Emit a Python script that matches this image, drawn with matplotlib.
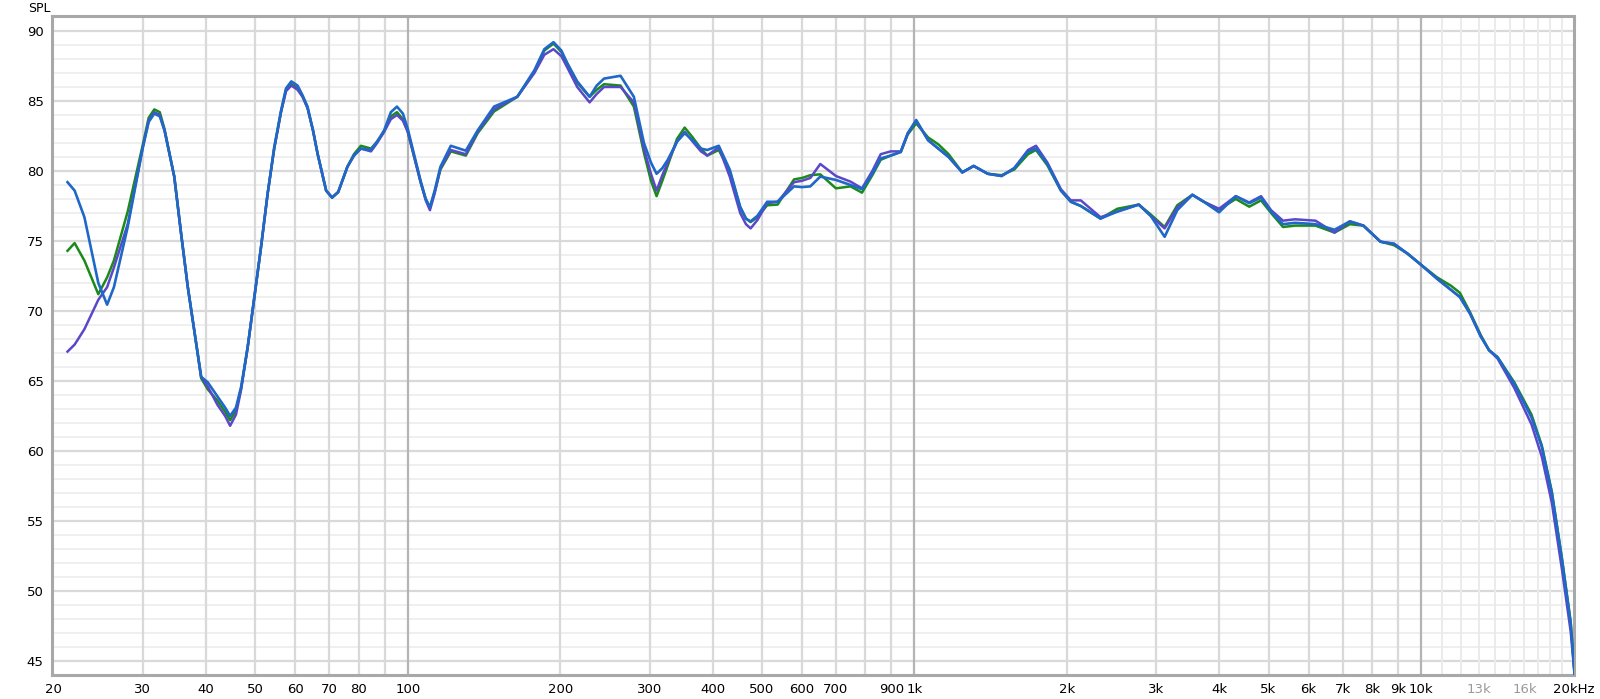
import matplotlib
matplotlib.use("Agg")
import matplotlib.pyplot as plt
from matplotlib.ticker import NullLocator

# Frequenzgang, drei Messungen
freq = [21.3, 22.0, 23.0, 24.5, 25.5, 26.3, 28.0, 30.0, 30.8, 31.6,
        32.4, 33.1, 34.6, 35.7, 36.8, 38.0, 39.1, 40.3, 42.1, 43.6,
        44.6, 45.8, 46.9, 48.3, 49.8, 51.3, 52.9, 54.5, 56.2, 57.5,
        58.9, 60.6, 62.0, 63.4, 65.0, 66.4, 69.0, 70.9, 72.9, 76.0,
        78.3, 80.8, 84.6, 87.0, 89.8, 92.6, 95.2, 97.8, 100, 106,
        108.5, 110.6, 113, 116, 121.6, 130.2, 137.4, 148, 164.5, 177.8,
        186, 193.9, 201, 206.4, 216, 228.5, 236, 244, 263, 279.4,
        292.5, 302, 309.8, 318, 326, 340, 352, 365, 379, 390,
        411, 432, 453, 465, 475, 490, 512, 537, 578.6, 600,
        623, 652, 700, 748, 788, 826, 858, 898, 940, 970,
        1008, 1064, 1115, 1168, 1243, 1309, 1396, 1486, 1574, 1676,
        1738, 1830, 1946, 2036, 2130, 2330, 2514, 2772, 2926, 3118,
        3302, 3537, 3726, 3993, 4308, 4580, 4833, 5058, 5340, 5638,
        6190, 6748, 7236, 7694, 8317, 8844, 9402, 10000, 10758, 11460,
        11930, 12500, 13110, 13620, 14160, 15280, 16520, 17310, 18120, 18980, 19740, 20100]

spl_blue = [79.2, 78.6, 76.7, 72.0, 70.45, 71.7, 76.0, 81.7, 83.5, 84.1,
            83.9, 82.9, 79.6, 75.5, 71.7, 68.3, 65.3, 64.9, 63.9, 63.1,
            62.5, 63.1, 64.6, 67.4, 71.0, 74.5, 78.4, 81.7, 84.3, 85.9,
            86.4, 86.1, 85.4, 84.6, 82.9, 81.2, 78.6, 78.1, 78.5, 80.3,
            81.1, 81.6, 81.5, 82.1, 82.9, 84.2, 84.6, 84.1, 83.0, 79.3,
            78.0, 77.4, 78.6, 80.3, 81.8, 81.45, 82.9, 84.6, 85.3, 87.2,
            88.7, 89.2, 88.6, 87.7, 86.4, 85.3, 86.1, 86.6, 86.8, 85.3,
            82.0, 80.6, 79.8, 80.2, 80.8, 82.1, 82.7, 82.2, 81.6, 81.5,
            81.8, 80.1, 77.45, 76.6, 76.4, 76.8, 77.8, 77.8, 78.9, 78.85,
            78.9, 79.6, 79.36, 79.0, 78.7, 79.8, 80.9, 81.1, 81.36, 82.67,
            83.64, 82.2, 81.6, 81.0, 79.9, 80.36, 79.8, 79.64, 80.2, 81.4,
            81.6, 80.5, 78.6, 77.8, 77.5, 76.6, 77.1, 77.6, 76.8, 75.3,
            77.2, 78.3, 77.8, 77.05, 78.2, 77.7, 78.1, 77.1, 76.2, 76.3,
            76.2, 75.8, 76.4, 76.1, 74.95, 74.8, 74.1, 73.3, 72.3, 71.5,
            71.0, 69.8, 68.2, 67.2, 66.7, 64.8, 62.4, 60.3, 57.0, 52.2, 47.7, 44.0]

spl_green = [74.3, 74.85, 73.6, 71.2, 72.4, 73.6, 77.1, 81.9, 83.8, 84.4,
             84.2, 83.0, 79.6, 75.5, 71.7, 68.3, 65.2, 64.4, 63.6, 62.8,
             62.2, 62.9, 64.5, 67.4, 71.0, 74.5, 78.4, 81.6, 84.2, 85.8,
             86.2, 85.9, 85.3, 84.5, 82.9, 81.2, 78.6, 78.1, 78.5, 80.3,
             81.2, 81.8, 81.6, 82.1, 82.8, 83.9, 84.2, 83.7, 82.8, 79.2,
             78.0, 77.4, 78.5, 80.1, 81.4, 81.1, 82.7, 84.25, 85.3, 87.1,
             88.6, 89.1, 88.5, 87.7, 86.3, 85.3, 85.8, 86.2, 86.1, 84.6,
             81.3, 79.3, 78.2, 79.3, 80.4, 82.3, 83.1, 82.4, 81.6, 81.1,
             81.5, 80.0, 77.4, 76.6, 76.35, 76.7, 77.55, 77.6, 79.4, 79.5,
             79.7, 79.76, 78.76, 78.9, 78.45, 79.7, 80.8, 81.1, 81.36, 82.6,
             83.4, 82.4, 81.9, 81.2, 79.9, 80.36, 79.8, 79.7, 80.1, 81.2,
             81.5, 80.4, 78.6, 77.8, 77.5, 76.6, 77.3, 77.6, 76.9, 76.0,
             77.55, 78.3, 77.8, 77.25, 78.0, 77.45, 77.9, 77.0, 76.0, 76.1,
             76.1, 75.6, 76.2, 76.1, 74.95, 74.7, 74.1, 73.3, 72.4, 71.8,
             71.3, 69.9, 68.3, 67.2, 66.7, 64.9, 62.6, 60.4, 57.1, 52.3, 47.8, 44.0]

spl_purple = [67.1, 67.6, 68.7, 70.8, 71.7, 73.1, 76.2, 81.7, 83.6, 84.2,
              84.0, 82.9, 79.6, 75.5, 71.7, 68.3, 65.3, 64.6, 63.3, 62.5,
              61.8, 62.6, 64.4, 67.4, 71.0, 74.5, 78.4, 81.6, 84.2, 85.7,
              86.1, 85.8, 85.3, 84.5, 82.9, 81.2, 78.6, 78.1, 78.5, 80.3,
              81.1, 81.6, 81.4, 82.0, 82.8, 83.7, 84.0, 83.6, 82.8, 79.2,
              77.9, 77.2, 78.4, 80.2, 81.5, 81.2, 82.8, 84.4, 85.3, 87.0,
              88.3, 88.7, 88.2, 87.4, 86.0, 84.9, 85.5, 86.0, 86.0, 84.9,
              81.6, 79.8, 78.6, 79.7, 80.6, 82.1, 82.8, 82.1, 81.4, 81.1,
              81.7, 79.6, 77.0, 76.2, 75.9, 76.5, 77.7, 77.8, 79.2, 79.3,
              79.5, 80.5, 79.64, 79.24, 78.76, 80.0, 81.2, 81.4, 81.4, 82.7,
              83.6, 82.2, 81.6, 81.0, 79.9, 80.36, 79.8, 79.64, 80.2, 81.5,
              81.8, 80.6, 78.7, 77.9, 77.9, 76.7, 77.1, 77.6, 76.8, 75.9,
              77.4, 78.3, 77.8, 77.3, 78.2, 77.75, 78.2, 77.2, 76.45, 76.55,
              76.45, 75.6, 76.4, 76.1, 74.95, 74.8, 74.1, 73.3, 72.3, 71.5,
              71.0, 69.8, 68.2, 67.2, 66.6, 64.5, 61.9, 59.6, 56.3, 51.5, 47.1, 44.0]

# Achsenbeschriftung
x_ticks = [20, 30, 40, 50, 60, 70, 80, 100, 200, 300, 400, 500, 600, 700, 900, 1000,
           2000, 3000, 4000, 5000, 6000, 7000, 8000, 9000, 10000, 13000, 16000, 20000]
x_labels = ['20', '30', '40', '50', '60', '70', '80', '100', '200', '300', '400', '500',
            '600', '700', '900', '1k', '2k', '3k', '4k', '5k', '6k', '7k', '8k', '9k', '10k',
            '13k', '16k', '20kHz']
y_ticks = [45, 50, 55, 60, 65, 70, 75, 80, 85, 90]

fig = plt.figure(figsize=(16, 6.99), dpi=100)
ax = fig.add_axes([52 / 1600, 1 - 675 / 699, 1522 / 1600, 659 / 699])
ax.set_xscale('log')
ax.set_xlim(19.85, 20040)
ax.set_ylim(44.0, 91.07)

# Gitter
for db in range(44, 92):
    if db % 5 == 0:
        ax.axhline(db, color='#d9d9d9', lw=1.6, zorder=1)
    else:
        ax.axhline(db, color='#ececec', lw=1.2, zorder=0.5)

for dec in [10, 100, 1000]:
    for m in range(2, 10):
        f = m * dec
        if f < 30:
            continue
        ax.axvline(f, color='#d9d9d9', lw=1.6, zorder=1)
for f in [100, 1000, 10000]:
    ax.axvline(f, color='#b4b4b4', lw=1.6, zorder=1.2)
for f in range(11000, 20000, 1000):
    ax.axvline(f, color='#ebebeb', lw=1.4, zorder=1)

# Kurven
ax.plot(freq, spl_green, color='#1a8a1a', lw=1.8, zorder=3, solid_joinstyle='round')
ax.plot(freq, spl_purple, color='#5a48c8', lw=1.8, zorder=3, solid_joinstyle='round')
ax.plot(freq, spl_blue, color='#1f68c8', lw=1.9, zorder=4, solid_joinstyle='round')

ax.set_xticks(x_ticks)
ax.set_xticklabels(x_labels)
ax.xaxis.set_minor_locator(NullLocator())
ax.set_yticks(y_ticks)
ax.tick_params(length=0, labelsize=9.5, pad=6)
for lbl, t in zip(ax.get_xticklabels(), x_ticks):
    if t in (13000, 16000):
        lbl.set_color('#9a9a9a')

for s in ax.spines.values():
    s.set_color('#a8a8a8')
    s.set_linewidth(2.2)

fig.text(28 / 1600, 1 - 8 / 699, 'SPL', fontsize=9, va='center', ha='left')

fig.savefig('out.png', dpi=100)
